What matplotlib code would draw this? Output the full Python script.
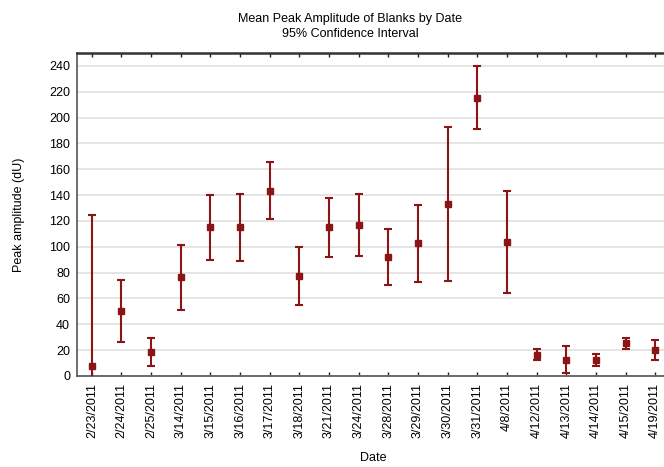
import matplotlib
matplotlib.use("Agg")
import matplotlib.pyplot as plt
import numpy as np

plt.rcParams['font.family'] = ['Liberation Sans', 'DejaVu Sans']

dates = ["2/23/2011", "2/24/2011", "2/25/2011", "3/14/2011", "3/15/2011",
         "3/16/2011", "3/17/2011", "3/18/2011", "3/21/2011", "3/24/2011",
         "3/28/2011", "3/29/2011", "3/30/2011", "3/31/2011", "4/8/2011",
         "4/12/2011", "4/13/2011", "4/14/2011", "4/15/2011", "4/19/2011"]
means = [8, 50.5, 18.5, 76.5, 115, 115, 143.5, 77.5, 115, 117,
         92, 103, 133.5, 215, 103.5, 16.5, 12.5, 12.5, 25.5, 20.5]
lower = [-109, 26, 7.5, 51, 89.5, 89, 121.5, 55, 92, 93,
         70.5, 72.5, 73.5, 191.5, 64, 12, 2, 8, 21, 12]
upper = [125, 74, 29.5, 101.5, 140, 140.5, 166, 100, 137.5, 140.5,
         113.5, 132.5, 193, 240, 143, 21, 23, 17, 29.5, 28]

color = '#8c1414'

fig = plt.figure(figsize=(6.64, 4.67), dpi=100)
ax = fig.add_axes([77/664, 1 - 376/467, (670 - 77)/664, (376 - 53)/467])

x = np.arange(len(dates))
m = np.array(means)
yerr = np.vstack([m - np.array(lower), np.array(upper) - m])
ax.errorbar(x, m, yerr=yerr, fmt='s', color=color, ecolor=color,
            markersize=4.2, elinewidth=1.5, capsize=2.6, capthick=1.5, zorder=3)

ax.set_xlim(-0.5, len(dates) - 0.5)
ax.set_ylim(0, 250)
ax.set_yticks(np.arange(0, 241, 20))
ax.yaxis.grid(True, color='#e3e3e3', linewidth=1.3)
ax.set_axisbelow(True)

ax.set_xticks(x)
ax.set_xticklabels(dates, rotation=90, fontsize=9)
ax.tick_params(axis='y', length=0, labelsize=9, pad=5)
ax.tick_params(axis='x', direction='in', length=3, top=True, width=1,
               color='#222222', pad=5)

for s in ['left', 'bottom', 'top']:
    ax.spines[s].set_color('#555555')
    ax.spines[s].set_linewidth(1.2)
ax.spines['top'].set_linewidth(1.8)
ax.spines['top'].set_color('#333333')
ax.spines['right'].set_visible(False)

ax.set_xlabel('Date', fontsize=9, labelpad=10)
ax.set_ylabel('Peak amplitude (dU)', fontsize=9, labelpad=17)

fig.text(350/664, 1 - 19/467, 'Mean Peak Amplitude of Blanks by Date', ha='center', va='center', fontsize=9)
fig.text(350/664, 1 - 34/467, '95% Confidence Interval', ha='center', va='center', fontsize=9)

fig.savefig('out.png', dpi=100)
